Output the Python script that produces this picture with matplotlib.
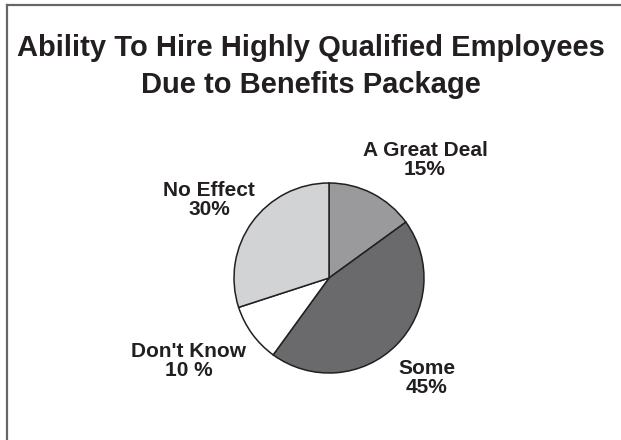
import matplotlib.pyplot as plt
from matplotlib.lines import Line2D

plt.rcParams['font.family'] = ['Liberation Sans', 'DejaVu Sans']

# Survey answers, clockwise from 12 o'clock
labels = ["A Great Deal\n15%", "Some\n45%", "Don't Know\n10 %", "No Effect\n30%"]
shares = [15, 45, 10, 30]
colors = ["#9a9a9d", "#6a6a6d", "#ffffff", "#d2d3d5"]

# where each label sits, in units of the pie radius
label_xy = [(1.01, 1.24), (1.03, -1.05), (-1.48, -0.87), (-1.26, 0.82)]

ink = "#231f20"
W, H = 621, 440
fig = plt.figure(figsize=(W / 100, H / 100), dpi=100)

# frame lines (only left and top edges fall inside the image)
fig.add_artist(Line2D([6.5 / W, 6.5 / W], [0, 1 - 5.5 / H], transform=fig.transFigure,
                      color="#666666", lw=1.6))
fig.add_artist(Line2D([6.5 / W, 1], [1 - 5.5 / H, 1 - 5.5 / H], transform=fig.transFigure,
                      color="#666666", lw=1.6))

fig.text(0.5, 1 - 48 / H, "Ability To Hire Highly Qualified Employees",
         ha="center", va="center", fontsize=21, fontweight="bold", color=ink)
fig.text(0.5, 1 - 85 / H, "Due to Benefits Package",
         ha="center", va="center", fontsize=21, fontweight="bold", color=ink)

cx, cy, r = 329, 278, 95
ax = fig.add_axes([(cx - r) / W, (H - cy - r) / H, 2 * r / W, 2 * r / H])
wedges, _ = ax.pie(shares, colors=colors, startangle=90, counterclock=False,
                   radius=1, wedgeprops=dict(edgecolor=ink, linewidth=1.1))
ax.set_xlim(-1, 1)
ax.set_ylim(-1, 1)
ax.axis("off")

for lab, (lx, ly) in zip(labels, label_xy):
    ax.text(lx, ly, lab, ha="center", va="center",
            multialignment="center", fontsize=15, fontweight="bold", color=ink,
            linespacing=1.0, clip_on=False)

fig.savefig("out.png", dpi=100)
